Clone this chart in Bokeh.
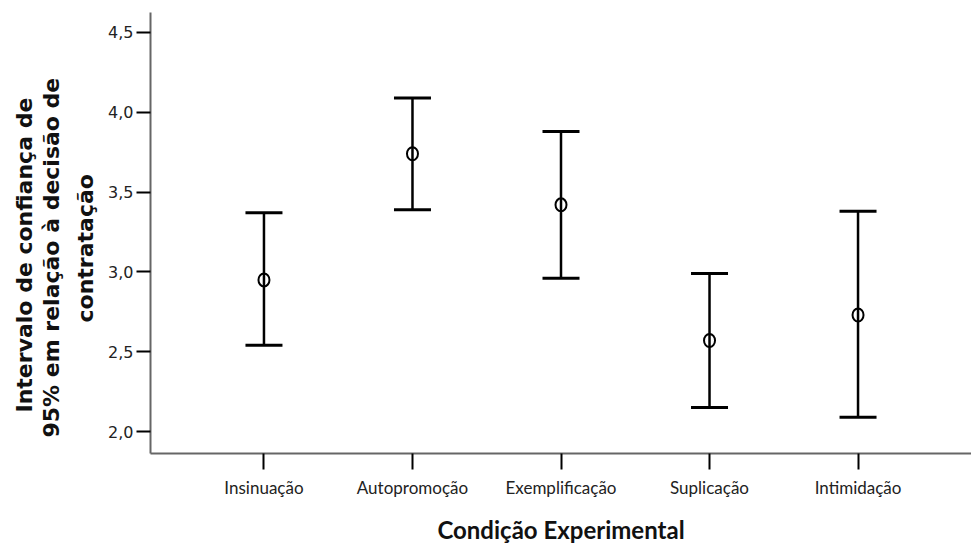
from bokeh.plotting import figure
from bokeh.models import FactorRange, FixedTicker, ColumnDataSource, Title
from bokeh.embed import file_html
from bokeh.resources import INLINE

categories = ["Insinuação", "Autopromoção", "Exemplificação", "Suplicação", "Intimidação"]
means = [2.95, 3.74, 3.42, 2.57, 2.73]
lower = [2.54, 3.39, 2.96, 2.15, 2.09]
upper = [3.37, 4.09, 3.88, 2.99, 3.38]
y_ticks = [2.0, 2.5, 3.0, 3.5, 4.0, 4.5]
y_tick_labels = ["2,0", "2,5", "3,0", "3,5", "4,0", "4,5"]
y_title_lines = ["Intervalo de confiança de", "95% em relação à decisão de", "contratação"]
x_title = "Condição Experimental"

src = ColumnDataSource(dict(cat=categories, mean=means, lo=lower, hi=upper))

p = figure(width=971, height=546, output_backend="svg", toolbar_location=None,
           x_range=FactorRange(*categories, range_padding=0.264, range_padding_units="absolute"),
           y_range=(1.8625, 4.625),
           min_border_left=150, min_border_right=0, min_border_top=12, min_border_bottom=93)
p.outline_line_color = None
p.xgrid.grid_line_color = None
p.ygrid.grid_line_color = None

p.segment(x0="cat", y0="lo", x1="cat", y1="hi", source=src, line_color="black", line_width=2.5)
p.scatter(x="cat", y="hi", source=src, marker="dash", size=37, line_color="black", line_width=3)
p.scatter(x="cat", y="lo", source=src, marker="dash", size=37, line_color="black", line_width=3)
p.ellipse(x="cat", y="mean", width=11, height=13, width_units="screen", height_units="screen",
          source=src, fill_color=None, line_color="black", line_width=2)

ya = p.yaxis[0]
ya.ticker = FixedTicker(ticks=y_ticks)
ya.major_label_overrides = {t: l for t, l in zip(y_ticks, y_tick_labels)}
ya.minor_tick_line_color = None
ya.major_tick_in = 0
ya.major_tick_out = 14
ya.major_tick_line_width = 2
ya.major_tick_line_color = "black"
ya.axis_line_color = "#666666"
ya.axis_line_width = 2
ya.major_label_text_font = "DejaVu Sans"
ya.major_label_text_font_size = "16px"
ya.major_label_text_color = "#222222"
ya.major_label_standoff = 3

# multi-line rotated y title: one Title per line in the left panel (innermost first)
title_offsets = [41, 16, 131]   # pixel shift of each line's start above the frame bottom
for i in (2, 1, 0):
    p.add_layout(Title(text=y_title_lines[i], align="left", offset=title_offsets[i],
                       standoff=(15 if i == 2 else 0),
                       text_font="DejaVu Sans", text_font_style="bold",
                       text_font_size="22px", text_color="#111111"), "left")

xa = p.xaxis[0]
xa.major_tick_in = 0
xa.major_tick_out = 16
xa.major_tick_line_width = 2
xa.major_tick_line_color = "black"
xa.axis_line_color = "#666666"
xa.axis_line_width = 2
xa.major_label_text_font = "Lato"
xa.major_label_text_font_size = "17px"
xa.major_label_text_color = "#222222"
xa.major_label_standoff = 7
xa.axis_label = x_title
xa.axis_label_text_font = "Lato"
xa.axis_label_text_font_style = "bold"
xa.axis_label_text_font_size = "24px"
xa.axis_label_text_color = "#111111"
xa.axis_label_standoff = 14

open("out.html", "w").write(file_html(p, INLINE))
